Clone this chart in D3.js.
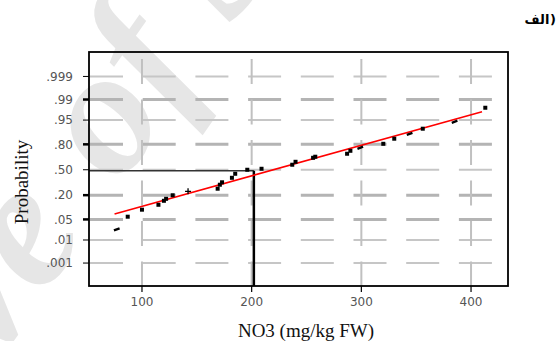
<!DOCTYPE html>
<html>
<head>
<meta charset="utf-8">
<script src="https://cdn.jsdelivr.net/npm/d3@7"></script>
<style>
	body { margin: 0; background: #fff; }
	svg { display: block; }
</style>
</head>
<body>
<div id="chart"></div>
<script>
// NO3 values (mg/kg FW) and their plotted probabilities
var no3Values = [77, 87, 100, 115, 120, 122, 128, 142, 169, 171, 173, 182, 185, 196, 209, 237, 240, 256, 258, 287, 290, 299, 320, 330, 344, 356, 385, 413];
var probValues = [0.024, 0.060, 0.093, 0.123, 0.152, 0.168, 0.199, 0.238, 0.265, 0.310, 0.339, 0.395, 0.447, 0.500, 0.513, 0.566, 0.604, 0.654, 0.667, 0.702, 0.735, 0.767, 0.805, 0.848, 0.883, 0.913, 0.944, 0.980];
var pointShapes = ["dash", "square", "square", "square", "square", "square", "square", "plus", "square", "square", "square", "square", "square", "square", "square", "square", "square", "square", "square", "square", "square", "dash", "square", "square", "dash", "square", "dash", "square"];

var xTicks = [100, 200, 300, 400];
var probTicks = [0.999, 0.99, 0.95, 0.80, 0.50, 0.20, 0.05, 0.01, 0.001];
var probLabels = [".999", ".99", ".95", ".80", ".50", ".20", ".05", ".01", ".001"];
var boldProbTicks = [0.99, 0.80, 0.20, 0.05];

// fitted normal line and the reference (median) lines
var fitMean = 220, fitSd = 99;
var fitRange = [75, 410];
var refValue = 202, refProb = 0.50;

var W = 559, H = 341;
var frame = {left: 89, right: 508, top: 52, bottom: 286};

// inverse normal cdf (Acklam), used for the probability axis
function probit(p){
	var a = [-39.69683028665376, 220.9460984245205, -275.9285104469687, 138.3577518672690, -30.66479806614716, 2.506628277459239],
		b = [-54.47609879822406, 161.5858368580409, -155.6989798598866, 66.80131188771972, -13.28068155288572],
		c = [-0.007784894002430293, -0.3223964580411365, -2.400758277161838, -2.549732539343734, 4.374664141464968, 2.938163982698783],
		d = [0.007784695709041462, 0.3224671290700398, 2.445134137142996, 3.754408661907416],
		q, r;
	if (p < 0.02425){
		q = Math.sqrt(-2 * Math.log(p));
		return (((((c[0]*q+c[1])*q+c[2])*q+c[3])*q+c[4])*q+c[5]) / ((((d[0]*q+d[1])*q+d[2])*q+d[3])*q+1);
	} else if (p > 1 - 0.02425){
		q = Math.sqrt(-2 * Math.log(1 - p));
		return -(((((c[0]*q+c[1])*q+c[2])*q+c[3])*q+c[4])*q+c[5]) / ((((d[0]*q+d[1])*q+d[2])*q+d[3])*q+1);
	}
	q = p - 0.5; r = q * q;
	return (((((a[0]*r+a[1])*r+a[2])*r+a[3])*r+a[4])*r+a[5])*q / (((((b[0]*r+b[1])*r+b[2])*r+b[3])*r+b[4])*r+1);
}

var x = d3.scaleLinear().domain([51.7, 433.7]).range([frame.left, frame.right]);
var z = d3.scaleLinear().domain([-3.85, 3.9]).range([frame.bottom, frame.top]);
function y(p){ return z(probit(p)); }

var svg = d3.select("#chart")
	.append("svg")
		.attr("width", W)
		.attr("height", H);

// watermark
var wm = svg.append("g")
	.attr("transform", "translate(88,232) rotate(-55)")
	.style("font-family", "'Liberation Serif', serif")
	.style("font-style", "italic")
	.style("font-weight", "bold")
	.style("font-size", "180px")
	.attr("fill", "#e6e6e6");
wm.append("text").attr("text-anchor", "end").text("Archive");
wm.append("text").attr("x", 55).text("of SID");

// grid
var grid = svg.append("g").attr("class", "grid");
grid.selectAll("line.h")
	.data(probTicks)
	.enter()
	.append("line")
		.attr("class", "h")
		.attr("x1", frame.left + 1)
		.attr("x2", frame.right - 12)
		.attr("y1", function(d){ return y(d); })
		.attr("y2", function(d){ return y(d); })
		.attr("stroke", function(d){ return boldProbTicks.indexOf(d) >= 0 ? "#b4b4b4" : "#c6c6c6"; })
		.attr("stroke-width", function(d){ return boldProbTicks.indexOf(d) >= 0 ? 3 : 2; })
		.attr("stroke-dasharray", "33,19.7");

grid.selectAll("line.v")
	.data(xTicks)
	.enter()
	.append("line")
		.attr("class", "v")
		.attr("x1", function(d){ return x(d); })
		.attr("x2", function(d){ return x(d); })
		.attr("y1", 59)
		.attr("y2", frame.bottom)
		.attr("stroke", "#c0c0c0")
		.attr("stroke-width", 2)
		.attr("stroke-dasharray", "25,15.5");

// reference lines at the median
svg.append("line")
	.attr("x1", frame.left)
	.attr("x2", x(refValue))
	.attr("y1", y(refProb) + 1)
	.attr("y2", y(refProb) + 1)
	.attr("stroke", "#333")
	.attr("stroke-width", 1.3);
svg.append("line")
	.attr("x1", x(refValue))
	.attr("x2", x(refValue))
	.attr("y1", y(refProb) + 1)
	.attr("y2", frame.bottom)
	.attr("stroke", "#000")
	.attr("stroke-width", 2.5);

// fitted line
svg.append("line")
	.attr("x1", x(fitRange[0]))
	.attr("x2", x(fitRange[1]))
	.attr("y1", z((fitRange[0] - fitMean) / fitSd))
	.attr("y2", z((fitRange[1] - fitMean) / fitSd))
	.attr("stroke", "#ff0000")
	.attr("stroke-width", 1.6);

// points
var pts = svg.append("g")
	.selectAll("g.pt")
	.data(no3Values.map(function(v, i){ return {v: v, p: probValues[i], s: pointShapes[i]}; }))
	.enter()
	.append("g")
		.attr("class", "pt")
		.attr("transform", function(d){ return "translate(" + x(d.v) + "," + y(d.p) + ")"; });
pts.filter(function(d){ return d.s === "square"; })
	.append("rect")
		.attr("x", -2).attr("y", -2).attr("width", 4).attr("height", 4)
		.attr("fill", "#000");
pts.filter(function(d){ return d.s === "dash"; })
	.append("rect")
		.attr("x", -3).attr("y", -1.2).attr("width", 6).attr("height", 2.4)
		.attr("transform", "rotate(-20)")
		.attr("fill", "#000");
pts.filter(function(d){ return d.s === "plus"; })
	.append("path")
		.attr("d", "M-3,0H3M0,-3V3")
		.attr("stroke", "#000")
		.attr("stroke-width", 1.3);

// frame
svg.append("rect")
	.attr("x", frame.left)
	.attr("y", frame.top)
	.attr("width", frame.right - frame.left)
	.attr("height", frame.bottom - frame.top)
	.attr("fill", "none")
	.attr("stroke", "#000")
	.attr("stroke-width", 1.8);

// y axis ticks and labels
var yAxis = svg.append("g")
	.style("font-family", "'DejaVu Sans', sans-serif")
	.style("font-size", "12px");
yAxis.selectAll("line")
	.data(probTicks)
	.enter()
	.append("line")
		.attr("x1", frame.left - 6)
		.attr("x2", frame.left)
		.attr("y1", function(d){ return y(d); })
		.attr("y2", function(d){ return y(d); })
		.attr("stroke", "#000")
		.attr("stroke-width", function(d){ return boldProbTicks.indexOf(d) >= 0 ? 2.5 : 1; });
yAxis.selectAll("text")
	.data(probTicks)
	.enter()
	.append("text")
		.attr("x", 73)
		.attr("y", function(d){ return y(d); })
		.attr("dy", "0.36em")
		.attr("text-anchor", "end")
		.attr("fill", "#555")
		.text(function(d, i){ return probLabels[i]; });

// x axis ticks and labels
var xAxis = svg.append("g")
	.style("font-family", "'DejaVu Sans', sans-serif")
	.style("font-size", "12px");
xAxis.selectAll("line")
	.data(xTicks)
	.enter()
	.append("line")
		.attr("x1", function(d){ return x(d); })
		.attr("x2", function(d){ return x(d); })
		.attr("y1", frame.bottom)
		.attr("y2", frame.bottom + 6)
		.attr("stroke", "#000")
		.attr("stroke-width", 1.2);
xAxis.selectAll("text")
	.data(xTicks)
	.enter()
	.append("text")
		.attr("x", function(d){ return x(d); })
		.attr("y", 306)
		.attr("text-anchor", "middle")
		.attr("fill", "#555")
		.text(function(d){ return d; });

// titles
svg.append("text")
	.attr("x", 306)
	.attr("y", 337)
	.attr("text-anchor", "middle")
	.style("font-family", "'Liberation Serif', serif")
	.style("font-size", "19px")
	.attr("fill", "#111")
	.text("NO3 (mg/kg FW)");
svg.append("text")
	.attr("transform", "translate(28,182) rotate(-90)")
	.attr("text-anchor", "middle")
	.style("font-family", "'Liberation Serif', serif")
	.style("font-size", "19px")
	.attr("fill", "#111")
	.text("Probability");

// panel label (alef); paren drawn on its own so it sits at the right
var panel = svg.append("g")
	.style("font-family", "'DejaVu Sans', sans-serif")
	.style("font-weight", "bold")
	.style("font-size", "13px")
	.attr("fill", "#000");
panel.append("text")
	.attr("x", 537)
	.attr("y", 24)
	.attr("text-anchor", "middle")
	.text("الف");
panel.append("text")
	.attr("x", 553)
	.attr("y", 24)
	.attr("text-anchor", "middle")
	.text(")");
</script>
</body>
</html>
